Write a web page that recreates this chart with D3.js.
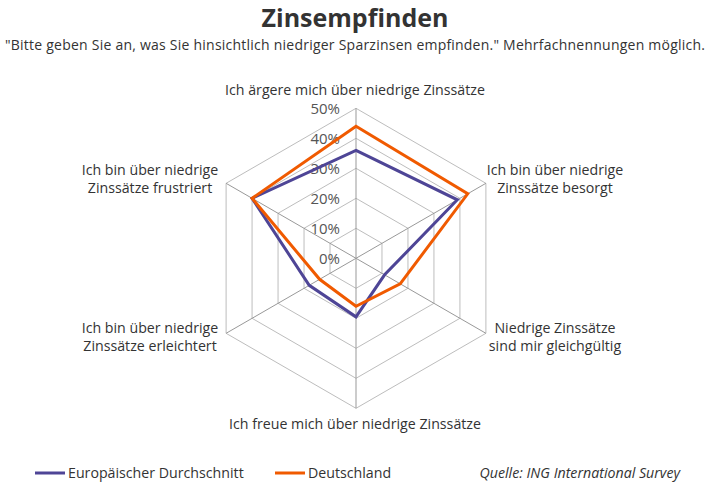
<!DOCTYPE html>
<html><head><meta charset="utf-8">
<script src="https://cdn.jsdelivr.net/npm/d3@7"></script>
<style>body{margin:0;background:#fff;font-family:"Open Sans",sans-serif}</style>
</head><body><svg id="c" width="710" height="489"></svg>
<script>
const categories=["Ich ärgere mich über niedrige Zinssätze","Ich bin über niedrige\nZinssätze besorgt","Niedrige Zinssätze\nsind mir gleichgültig","Ich freue mich über niedrige Zinssätze","Ich bin über niedrige\nZinssätze erleichtert","Ich bin über niedrige\nZinssätze frustriert"];
const euValues=[36,39,11,19.5,18,40];
const deValues=[44,43,17,16,14,40];
const ticks=[0,10,20,30,40,50];
const series=[{name:"Europäischer Durchschnitt",values:euValues,color:"#4e4596"},{name:"Deutschland",values:deValues,color:"#f05a00"}];
const svg=d3.select("#c");
const cx=356,cy=258.3;
const r=d3.scaleLinear().domain([0,50]).range([0,150]);
const ang=i=>i*Math.PI/3;
const pt=(i,v)=>[cx+r(v)*Math.sin(ang(i)),cy-r(v)*Math.cos(ang(i))];
svg.append("text").attr("x",355).attr("y",27).attr("text-anchor","middle").attr("font-size",25).attr("font-weight","bold").attr("fill","#333").text("Zinsempfinden");
svg.append("text").attr("x",355).attr("y",50).attr("text-anchor","middle").attr("font-size",14).attr("textLength",700).attr("fill","#333").text('"Bitte geben Sie an, was Sie hinsichtlich niedriger Sparzinsen empfinden." Mehrfachnennungen möglich.');
const g=svg.append("g");
ticks.slice(1).forEach(t=>{g.append("polygon").attr("points",categories.map((c,i)=>pt(i,t).join(",")).join(" ")).attr("fill","none").attr("stroke","#bdbdbd").attr("stroke-width",1);});
categories.forEach((c,i)=>{const p=pt(i,50);g.append("line").attr("x1",cx).attr("y1",cy).attr("x2",p[0]).attr("y2",p[1]).attr("stroke","#999");});
ticks.forEach(t=>g.append("text").attr("x",cx-16).attr("y",cy-r(t)+6).attr("text-anchor","end").attr("font-size",15).attr("fill","#555").text(t+"%"));
const line=d3.line().curve(d3.curveLinearClosed);
series.forEach(s=>g.append("path").attr("d",line(s.values.map((v,i)=>pt(i,v)))).attr("fill","none").attr("stroke",s.color).attr("stroke-width",3));
const lp=[[355,95,"middle"],[555,175,"middle"],[555,333,"middle"],[355,429,"middle"],[150,333,"middle"],[150,175,"middle"]];
categories.forEach((c,i)=>{const t=svg.append("text").attr("x",lp[i][0]).attr("y",lp[i][1]).attr("text-anchor",lp[i][2]).attr("font-size",14.2).attr("fill","#333");c.split("\n").forEach((l,j)=>t.append("tspan").attr("x",lp[i][0]).attr("dy",j?18:0).text(l));});
const lx=[35,275];
series.forEach((s,k)=>{svg.append("line").attr("x1",lx[k]).attr("x2",lx[k]+30).attr("y1",473).attr("y2",473).attr("stroke",s.color).attr("stroke-width",3);svg.append("text").attr("x",lx[k]+33).attr("y",478).attr("font-size",14.2).attr("fill","#333").text(s.name);});
svg.append("text").attr("x",680).attr("y",478).attr("text-anchor","end").attr("font-size",14.2).attr("font-style","italic").attr("fill","#333").text("Quelle: ING International Survey");
</script></body></html>
